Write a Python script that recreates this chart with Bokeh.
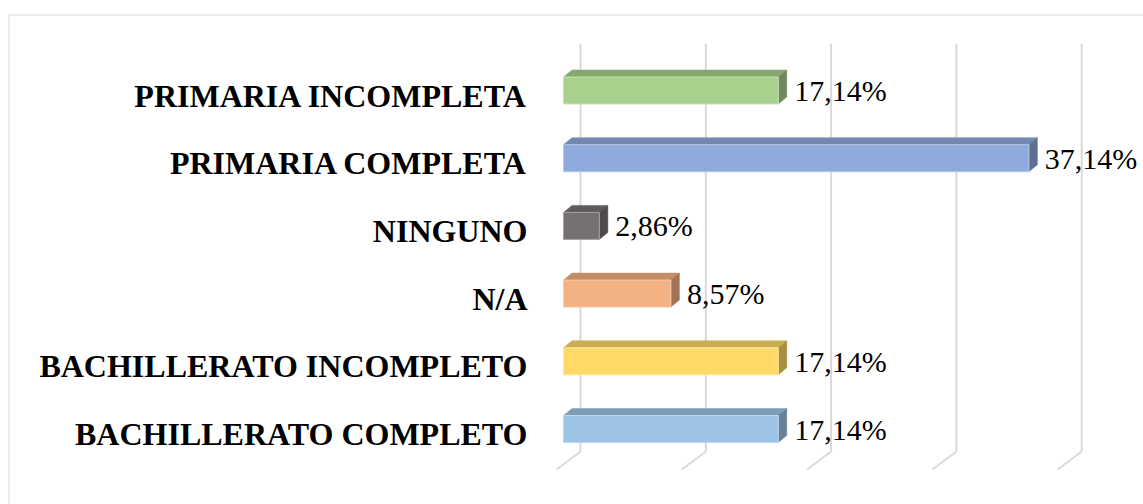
from bokeh.plotting import figure
from bokeh.models import Span, Range1d
from bokeh.core.properties import value
from bokeh.embed import file_html
from bokeh.resources import INLINE

# ---------------- data ----------------
categories = ["BACHILLERATO COMPLETO", "BACHILLERATO INCOMPLETO", "N/A",
              "NINGUNO", "PRIMARIA COMPLETA", "PRIMARIA INCOMPLETA"]
percentages = [17.14, 17.14, 8.57, 2.86, 37.14, 17.14]
value_labels = ["17,14%", "17,14%", "8,57%", "2,86%", "37,14%", "17,14%"]
gridline_values = [0, 10, 20, 30, 40]
front_colors = ["#9DC3E6", "#FFD966", "#F4B183", "#767171", "#8FAADC", "#A9D18E"]

# ---------------- geometry (screen based styling) ----------------
W, H = 1143, 504
LEFT_BORDER = 8
TOP_BORDER = 14
PX_X = 12.53          # pixels per percent
PX_Y = 67.7           # pixels per category step
ZERO_PX = 563.0 - LEFT_BORDER   # frame x of the value 0 (front face)
CAT0_PX = 428.5 - TOP_BORDER    # frame y of first category centre
frame_w = W - LEFT_BORDER
frame_h = H - TOP_BORDER

x_start = -ZERO_PX / PX_X
x_end = (frame_w - ZERO_PX) / PX_X
y_top = CAT0_PX / PX_Y
y_bottom = -(frame_h - CAT0_PX) / PX_Y

half_h = 13.5 / PX_Y
ddx = 8.5 / PX_X
ddy = 7.0 / PX_Y


def shade(hex_color, f):
    h = hex_color.lstrip("#")
    r, g, b = (int(h[i:i + 2], 16) for i in (0, 2, 4))
    return "#%02x%02x%02x" % (int(r * f), int(g * f), int(b * f))


def tint(hex_color, f):
    h = hex_color.lstrip("#")
    r, g, b = (int(h[i:i + 2], 16) for i in (0, 2, 4))
    return "#%02x%02x%02x" % (int(r + (255 - r) * f), int(g + (255 - g) * f), int(b + (255 - b) * f))


top_colors = [shade(c, 0.80) for c in front_colors]
side_colors = [shade(c, 0.66) for c in front_colors]
edge_colors = [tint(c, 0.35) for c in front_colors]

p = figure(width=W, height=H, output_backend="svg", toolbar_location=None,
           x_range=Range1d(x_start, x_end), y_range=Range1d(y_bottom, y_top),
           min_border_left=LEFT_BORDER, min_border_right=0,
           min_border_top=TOP_BORDER, min_border_bottom=0)
p.axis.visible = False
p.grid.visible = False
p.outline_line_color = None
p.background_fill_color = "white"
p.border_fill_color = "white"

# chart border (left and top visible)
p.add_layout(Span(location=x_start, dimension="height", line_color="#d9d9d9", line_width=2))
p.add_layout(Span(location=y_top, dimension="width", line_color="#d9d9d9", line_width=2))

# gridlines on back wall + floor
wall_dx = 17.0 / PX_X
floor_dx = -24.0 / PX_X
grid_top = (CAT0_PX - (43 - TOP_BORDER)) / PX_Y
grid_corner = (CAT0_PX - (451 - TOP_BORDER)) / PX_Y
grid_floor = (CAT0_PX - (469 - TOP_BORDER)) / PX_Y
gx = [g + wall_dx for g in gridline_values]
p.segment(x0=gx, y0=[grid_top] * len(gx), x1=gx, y1=[grid_corner] * len(gx),
          line_color="#d9d9d9", line_width=2)
p.segment(x0=gx, y0=[grid_corner] * len(gx), x1=[x + floor_dx for x in gx],
          y1=[grid_floor] * len(gx), line_color="#d9d9d9", line_width=2)

# 3D bars
ys = list(range(len(categories)))
front_xs, front_ys, top_xs, top_ys, side_xs, side_ys = [], [], [], [], [], []
for i, v in enumerate(percentages):
    c = ys[i]
    lo, hi = c - half_h, c + half_h
    front_xs.append([0, v, v, 0])
    front_ys.append([lo, lo, hi, hi])
    top_xs.append([0, v, v + ddx, ddx])
    top_ys.append([hi, hi, hi + ddy, hi + ddy])
    side_xs.append([v, v + ddx, v + ddx, v])
    side_ys.append([lo, lo + ddy, hi + ddy, hi])

p.patches(xs=top_xs, ys=top_ys, fill_color=top_colors, line_color=top_colors, line_width=0.5)
p.patches(xs=side_xs, ys=side_ys, fill_color=side_colors, line_color=side_colors, line_width=0.5)
p.patches(xs=front_xs, ys=front_ys, fill_color=front_colors, line_color=edge_colors, line_width=1)

# category labels
lab_x = (527 - LEFT_BORDER - ZERO_PX) / PX_X
p.text(x=[lab_x] * len(categories), y=ys, text=categories,
       text_font=value("Liberation Serif"), text_font_style="bold",
       text_font_size="32px", text_align="right", text_baseline="alphabetic",
       y_offset=5, text_color="black")

# value labels
p.text(x=percentages, y=ys, text=value_labels,
       text_font=value("Liberation Serif"), text_font_style="normal",
       text_font_size="30px", text_align="left", text_baseline="alphabetic",
       x_offset=16, y_offset=0, text_color="black")

open("out.html", "w").write(file_html(p, INLINE))
